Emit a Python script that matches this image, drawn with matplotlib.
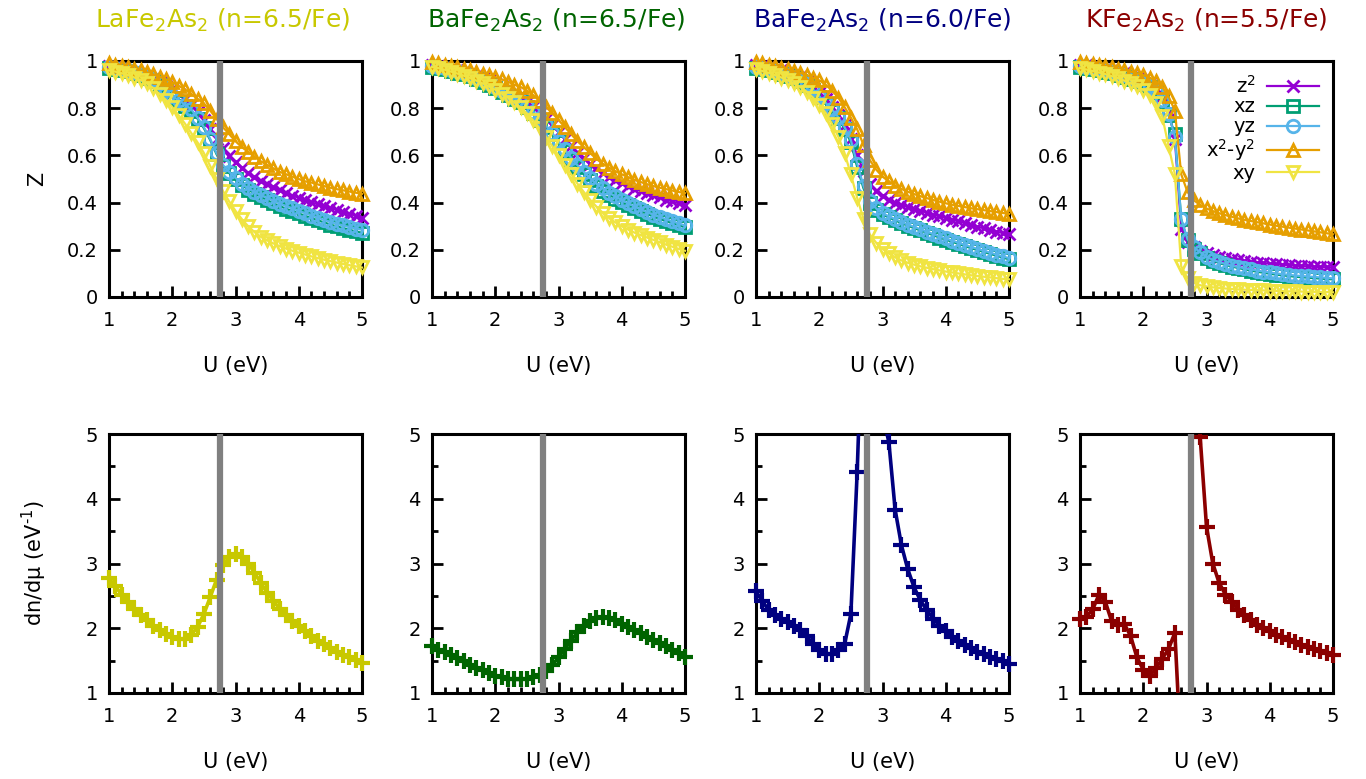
import numpy as np
import matplotlib
matplotlib.use("Agg")
import matplotlib.pyplot as plt
from matplotlib.ticker import MultipleLocator, FuncFormatter
from matplotlib.patches import Rectangle

plt.rcParams['font.family'] = ['DejaVu Sans']
plt.rcParams['mathtext.fontset'] = 'dejavusans'

U = [1.0, 1.1, 1.2, 1.3, 1.4, 1.5, 1.6, 1.7, 1.8, 1.9, 2.0, 2.1, 2.2, 2.3, 2.4, 2.5, 2.6, 2.7, 2.8, 2.9,
     3.0, 3.1, 3.2, 3.3, 3.4, 3.5, 3.6, 3.7, 3.8, 3.9, 4.0, 4.1, 4.2, 4.3, 4.4, 4.5, 4.6, 4.7, 4.8, 4.9, 5.0]

titles = ["LaFe$_2$As$_2$ (n=6.5/Fe)", "BaFe$_2$As$_2$ (n=6.5/Fe)",
          "BaFe$_2$As$_2$ (n=6.0/Fe)", "KFe$_2$As$_2$ (n=5.5/Fe)"]
title_colors = ["#c8c800", "#006400", "#000080", "#8b0000"]

orbitals = ["z$^2$", "xz", "yz", "x$^2$-y$^2$", "xy"]
orb_colors = ["#9400d3", "#009e73", "#56b4e9", "#e69f00", "#f0e442"]
orb_markers = ["x", "s", "o", "^", "v"]

# quasiparticle weight Z, one list per orbital (z2, xz, yz, x2-y2, xy)
z_la = [
    [.98, .975, .97, .962, .955, .945, .935, .925, .91, .895, .88, .86, .84, .815, .785, .75, .71, .67, .63, .597,
     .57, .545, .525, .508, .493, .48, .466, .453, .441, .43, .42, .41, .401, .393, .385, .377, .369, .361, .353, .344, .335],
    [.97, .966, .962, .956, .948, .94, .93, .917, .9, .875, .845, .828, .81, .79, .755, .715, .665, .605, .555, .525,
     .5, .475, .455, .438, .424, .41, .397, .385, .374, .364, .354, .344, .334, .325, .316, .307, .299, .292, .285, .278, .272],
    [.975, .97, .965, .96, .952, .944, .935, .922, .905, .878, .85, .835, .815, .795, .76, .72, .67, .61, .56, .53,
     .505, .48, .46, .445, .432, .42, .408, .396, .385, .375, .365, .355, .345, .336, .327, .318, .31, .303, .296, .29, .285],
    [.99, .985, .98, .975, .967, .96, .952, .943, .933, .922, .91, .895, .88, .86, .84, .82, .79, .755, .72, .69,
     .66, .635, .615, .595, .575, .56, .545, .53, .52, .51, .5, .49, .485, .477, .47, .463, .457, .452, .447, .442, .437],
    [.96, .955, .948, .94, .93, .92, .905, .885, .86, .835, .805, .77, .735, .695, .655, .61, .555, .5, .45, .405,
     .365, .33, .3, .275, .255, .24, .227, .215, .205, .196, .188, .18, .172, .165, .158, .152, .146, .14, .135, .13, .125],
]
z_ba65 = [
    [.985, .98, .975, .968, .962, .955, .947, .938, .928, .918, .905, .892, .878, .862, .845, .825, .803, .78, .755, .728,
     .7, .67, .64, .612, .587, .565, .545, .527, .51, .495, .482, .47, .459, .449, .44, .431, .422, .413, .405, .397, .39],
    [.975, .97, .965, .958, .951, .943, .935, .925, .913, .9, .885, .87, .855, .84, .825, .805, .78, .752, .722, .69,
     .655, .62, .585, .552, .523, .495, .472, .451, .433, .417, .402, .388, .375, .363, .352, .341, .331, .322, .313, .304, .295],
    [.98, .975, .97, .963, .956, .948, .94, .93, .918, .905, .89, .875, .86, .845, .83, .81, .785, .757, .727, .695,
     .66, .625, .59, .558, .53, .503, .48, .46, .442, .426, .411, .397, .384, .372, .36, .349, .339, .33, .321, .312, .303],
    [.995, .99, .985, .98, .975, .968, .962, .955, .947, .94, .932, .922, .912, .9, .89, .875, .855, .83, .805, .78,
     .75, .72, .69, .66, .635, .61, .585, .565, .548, .533, .52, .508, .497, .487, .478, .47, .463, .457, .451, .445, .44],
    [.975, .97, .963, .955, .947, .938, .928, .917, .905, .892, .878, .862, .845, .825, .803, .778, .748, .715, .68, .64,
     .6, .56, .52, .48, .445, .412, .383, .357, .335, .316, .3, .286, .273, .262, .252, .242, .232, .222, .213, .204, .196],
]
z_ba60 = [
    [.985, .98, .974, .967, .96, .951, .942, .931, .915, .892, .865, .838, .805, .77, .73, .67, .6, .535, .48, .45,
     .43, .413, .4, .39, .381, .373, .365, .357, .349, .342, .335, .328, .321, .313, .305, .298, .291, .284, .277, .271, .265],
    [.97, .965, .96, .953, .946, .938, .928, .916, .899, .876, .846, .819, .79, .757, .713, .655, .55, .46, .4, .37,
     .35, .337, .325, .313, .302, .292, .282, .272, .262, .252, .243, .234, .225, .216, .207, .199, .191, .183, .175, .167, .16],
    [.975, .97, .964, .957, .95, .942, .932, .92, .903, .88, .85, .823, .795, .762, .72, .665, .565, .47, .405, .375,
     .355, .342, .33, .318, .307, .297, .287, .277, .267, .257, .248, .239, .23, .221, .212, .204, .196, .188, .18, .172, .165],
    [.995, .99, .985, .978, .972, .965, .957, .95, .94, .93, .918, .9, .875, .845, .805, .76, .71, .645, .58, .54,
     .51, .49, .472, .458, .446, .436, .427, .419, .411, .404, .397, .391, .386, .381, .376, .372, .368, .364, .36, .356, .352],
    [.965, .958, .95, .94, .93, .918, .905, .89, .87, .845, .815, .78, .735, .68, .61, .52, .42, .33, .265, .23,
     .205, .185, .168, .155, .145, .137, .13, .124, .118, .113, .108, .104, .1, .096, .092, .089, .086, .083, .08, .077, .075],
]
z_k55 = [
    [.985, .981, .977, .972, .967, .961, .955, .948, .94, .93, .92, .905, .885, .85, .79, .67, .29, .235, .21, .195,
     .185, .177, .17, .165, .16, .156, .152, .149, .146, .143, .141, .139, .137, .135, .133, .131, .13, .128, .127, .126, .125],
    [.975, .971, .966, .961, .955, .949, .942, .934, .925, .915, .903, .888, .868, .83, .77, .69, .33, .24, .205, .185,
     .167, .154, .144, .136, .129, .123, .117, .112, .107, .103, .099, .095, .092, .089, .086, .084, .082, .08, .078, .076, .075],
    [.98, .976, .971, .966, .96, .954, .947, .939, .93, .92, .908, .893, .873, .835, .775, .68, .33, .245, .21, .19,
     .17, .158, .148, .14, .133, .127, .122, .117, .112, .108, .104, .1, .097, .094, .091, .089, .087, .085, .083, .081, .079],
    [.995, .992, .988, .984, .979, .974, .968, .962, .955, .948, .94, .93, .915, .89, .85, .79, .52, .445, .41, .39,
     .375, .364, .355, .347, .34, .333, .327, .322, .317, .312, .307, .302, .298, .294, .29, .286, .282, .278, .274, .27, .266],
    [.97, .964, .958, .951, .944, .936, .927, .917, .906, .893, .878, .855, .82, .765, .64, .52, .13, .08, .06, .05,
     .045, .041, .038, .036, .034, .032, .031, .03, .029, .028, .027, .026, .025, .024, .024, .023, .022, .022, .021, .021, .02],
]
z_data = [z_la, z_ba65, z_ba60, z_k55]

# compressibility dn/dmu (nan = gap in the data)
nan = float('nan')
dn_la = [2.77, 2.65, 2.52, 2.4, 2.3, 2.2, 2.12, 2.04, 1.97, 1.91, 1.86, 1.83, 1.84, 1.9, 2.02, 2.22, 2.48, 2.75, 2.97, 3.1,
         3.15, 3.1, 3.0, 2.86, 2.7, 2.55, 2.42, 2.3, 2.2, 2.11, 2.03, 1.95, 1.88, 1.81, 1.75, 1.69, 1.64, 1.59, 1.55, 1.51, 1.47]
dn_ba65 = [1.72, 1.67, 1.63, 1.58, 1.54, 1.49, 1.44, 1.39, 1.35, 1.31, 1.27, 1.24, 1.22, 1.21, 1.21, 1.22, 1.24, 1.28, 1.34, 1.43,
           1.55, 1.68, 1.81, 1.94, 2.04, 2.11, 2.16, 2.18, 2.16, 2.12, 2.07, 2.02, 1.97, 1.92, 1.87, 1.82, 1.77, 1.72, 1.67, 1.62, 1.56]
dn_ba60 = [2.57, 2.42, 2.28, 2.2, 2.14, 2.1, 2.04, 1.97, 1.88, 1.76, 1.67, 1.61, 1.6, 1.66, 1.75, 2.22, 4.42, 7.3, nan, nan,
           5.3, 4.88, 3.83, 3.28, 2.91, 2.63, 2.43, 2.28, 2.15, 2.04, 1.95, 1.87, 1.8, 1.74, 1.69, 1.64, 1.6, 1.56, 1.52, 1.49, 1.45]
dn_k55 = [2.14, 2.18, 2.29, 2.52, 2.41, 2.11, 2.05, 2.07, 1.88, 1.55, 1.36, 1.26, 1.38, 1.53, 1.68, 1.93, 0.0, nan, nan, 4.95,
          3.57, 3.0, 2.7, 2.52, 2.41, 2.28, 2.2, 2.12, 2.05, 2.0, 1.95, 1.9, 1.86, 1.82, 1.78, 1.74, 1.71, 1.68, 1.65, 1.62, 1.59]
dn_data = [dn_la, dn_ba65, dn_ba60, dn_k55]

u_transition = 2.75

fig = plt.figure(figsize=(13.66, 7.79), dpi=100)
W, H = 1366.0, 779.0
lefts = [109, 432, 756, 1080]
aw = 253
title_x = [0.45, 0.49, 0.5, 0.5]
fmt = FuncFormatter(lambda v, p: "%g" % v)


def style(ax):
    for s in ax.spines.values():
        s.set_linewidth(2.2)
    ax.tick_params(which='both', direction='in', top=False, right=False, labelsize=14, width=2)
    ax.tick_params(which='major', length=8)
    ax.tick_params(axis='x', which='major', pad=10)
    ax.tick_params(axis='y', which='major', pad=8)
    ax.tick_params(which='minor', length=4)
    ax.set_xlim(1, 5)
    ax.xaxis.set_major_locator(MultipleLocator(1))
    ax.xaxis.set_minor_locator(MultipleLocator(0.2))
    ax.xaxis.set_major_formatter(fmt)
    ax.yaxis.set_major_formatter(fmt)
    ax.set_xlabel("U (eV)", fontsize=15, labelpad=19)
    ax.axvline(u_transition, color='#808080', lw=4.5, zorder=5)


for i in range(4):
    # top row: Z
    ax = fig.add_axes([lefts[i] / W, 1 - 297 / H, aw / W, 236 / H])
    style(ax)
    ax.set_ylim(0, 1)
    ax.yaxis.set_major_locator(MultipleLocator(0.2))
    for k in range(5):
        mfc = orb_colors[k] if orb_markers[k] == 'x' else 'none'
        ax.plot(U, z_data[i][k], color=orb_colors[k], lw=1.6, marker=orb_markers[k],
                ms=9, mew=2.0, mfc=mfc, label=orbitals[k], clip_on=False, zorder=3)
    ax.set_title(titles[i], color=title_colors[i], fontsize=18, pad=24, x=title_x[i])
    if i == 0:
        ax.set_ylabel("Z", fontsize=15, labelpad=14)
    if i == 3:
        ax.legend(loc='upper right', bbox_to_anchor=(1.0, 1.0), markerfirst=False, frameon=False,
                  fontsize=14, handlelength=2.7, labelspacing=0.05, handletextpad=0.6, borderaxespad=0.3)

    # bottom row: dn/dmu
    ax2 = fig.add_axes([lefts[i] / W, 1 - 693 / H, aw / W, 259 / H])
    style(ax2)
    ax2.set_ylim(1, 5)
    ax2.yaxis.set_major_locator(MultipleLocator(1))
    ax2.yaxis.set_minor_locator(MultipleLocator(0.5))
    ln, = ax2.plot(U, dn_data[i], color=title_colors[i], lw=2.6, marker='+', ms=12, mew=3.0, zorder=3)
    clip = Rectangle((-0.05, 0), 1.1, 1, transform=ax2.transAxes)
    ln.set_clip_path(clip)
    if i == 0:
        ax2.set_ylabel("dn/dμ (eV$^{\u20101}$)", fontsize=15, labelpad=26)

fig.savefig("out.png", dpi=100)
